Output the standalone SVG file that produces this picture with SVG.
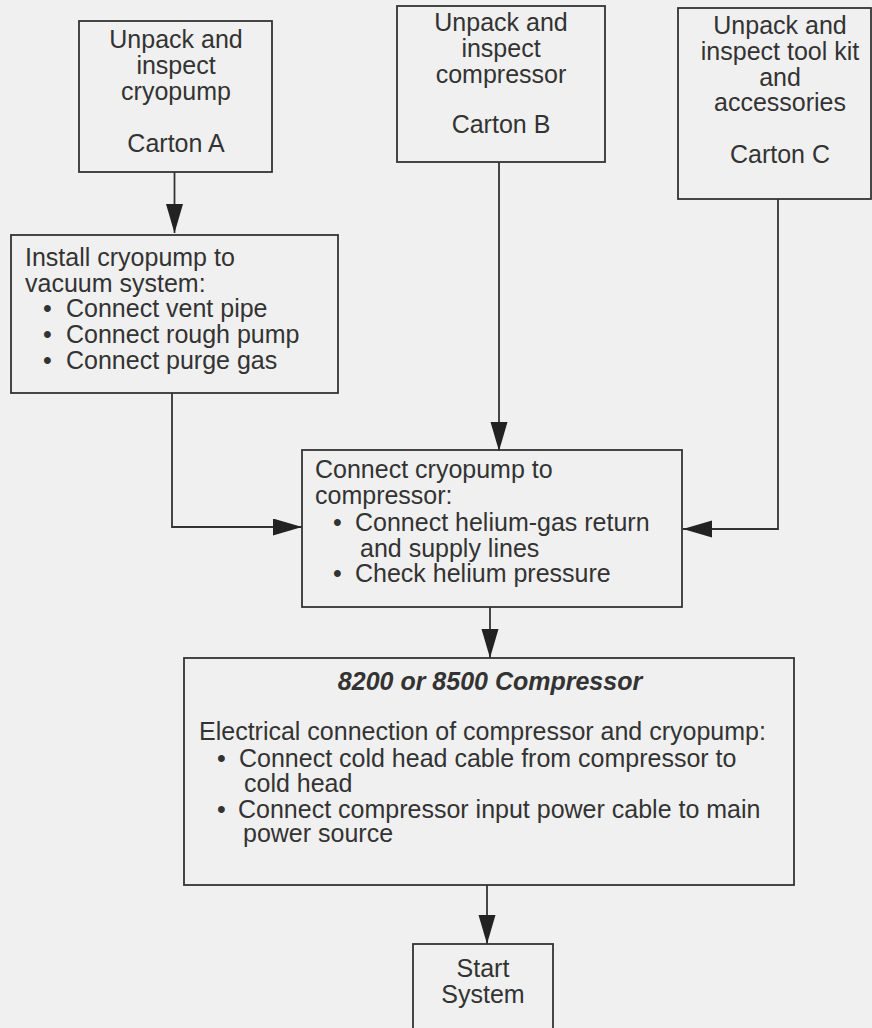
<svg xmlns="http://www.w3.org/2000/svg" width="872" height="1028" viewBox="0 0 872 1028">
<style>
.bg{fill:#f0f0f0}
.box{fill:none;stroke:#333;stroke-width:1.8}
.t{font-family:"Liberation Sans",Arial,sans-serif;font-size:25px;fill:#333}
.c{text-anchor:middle}
.bi{font-weight:bold;font-style:italic}
.ln{fill:none;stroke:#333;stroke-width:1.8}
</style>
<defs>
<marker id="ah" markerUnits="userSpaceOnUse" markerWidth="30" markerHeight="18" refX="29" refY="8.5" orient="auto">
<path d="M0,0 L29,8.5 L0,17 z" fill="#222"/>
</marker>
</defs>
<rect class="bg" x="0" y="0" width="872" height="1028"/>
<g id="connectors">
<path class="ln" d="M174.5,172 V233" marker-end="url(#ah)"/>
<path class="ln" d="M172,393 V527 H302" marker-end="url(#ah)"/>
<path class="ln" d="M499,162 V451" marker-end="url(#ah)"/>
<path class="ln" d="M778,199 V529 H683" marker-end="url(#ah)"/>
<path class="ln" d="M490,607 V658" marker-end="url(#ah)"/>
<path class="ln" d="M487,885 V944" marker-end="url(#ah)"/>
</g>
<g id="cartonA">
<rect class="box" x="79" y="21" width="193" height="151"/>
<text class="t c" x="176" y="48">Unpack and</text>
<text class="t c" x="176" y="74">inspect</text>
<text class="t c" x="176" y="100">cryopump</text>
<text class="t c" x="176" y="152">Carton A</text>
</g>
<g id="cartonB">
<rect class="box" x="397" y="6" width="208" height="156"/>
<text class="t c" x="501" y="31">Unpack and</text>
<text class="t c" x="501" y="57">inspect</text>
<text class="t c" x="501" y="83">compressor</text>
<text class="t c" x="501" y="133">Carton B</text>
</g>
<g id="cartonC">
<rect class="box" x="678" y="8" width="193" height="191"/>
<text class="t c" x="780" y="34">Unpack and</text>
<text class="t c" x="780" y="60">inspect tool kit</text>
<text class="t c" x="780" y="86">and</text>
<text class="t c" x="780" y="111">accessories</text>
<text class="t c" x="780" y="163">Carton C</text>
</g>
<g id="install">
<rect class="box" x="11" y="235" width="327" height="158"/>
<text class="t" x="25" y="266">Install cryopump to</text>
<text class="t" x="25" y="292">vacuum system:</text>
<text class="t" x="43" y="317">•</text><text class="t" x="66" y="317">Connect vent pipe</text>
<text class="t" x="43" y="343">•</text><text class="t" x="66" y="343">Connect rough pump</text>
<text class="t" x="43" y="369">•</text><text class="t" x="66" y="369">Connect purge gas</text>
</g>
<g id="connect">
<rect class="box" x="302" y="450" width="380" height="157"/>
<text class="t" x="315" y="478">Connect cryopump to</text>
<text class="t" x="315" y="504">compressor:</text>
<text class="t" x="333" y="531">•</text><text class="t" x="355" y="531">Connect helium-gas return</text>
<text class="t" x="360" y="557">and supply lines</text>
<text class="t" x="333" y="582">•</text><text class="t" x="355" y="582">Check helium pressure</text>
</g>
<g id="compressor">
<rect class="box" x="184" y="658" width="610" height="227"/>
<text class="t c bi" x="490" y="690">8200 or 8500 Compressor</text>
<text class="t" x="199" y="740">Electrical connection of compressor and cryopump:</text>
<text class="t" x="217" y="767">•</text><text class="t" x="239" y="767">Connect cold head cable from compressor to</text>
<text class="t" x="244" y="792">cold head</text>
<text class="t" x="217" y="818">•</text><text class="t" x="238" y="818">Connect compressor input power cable to main</text>
<text class="t" x="243" y="842">power source</text>
</g>
<g id="start">
<rect class="box" x="413" y="944" width="140" height="100"/>
<text class="t c" x="483" y="977">Start</text>
<text class="t c" x="483" y="1003">System</text>
</g>
</svg>
